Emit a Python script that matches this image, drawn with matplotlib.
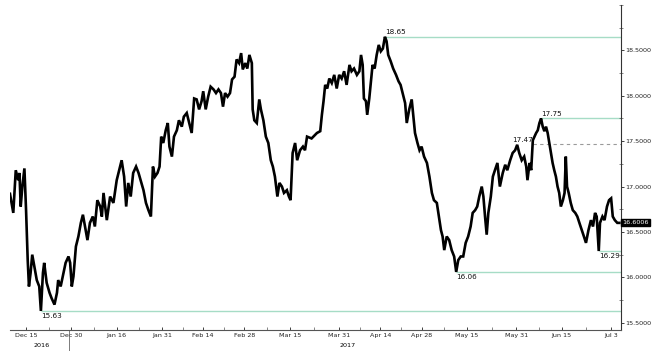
import numpy as np
import matplotlib.pyplot as plt
from matplotlib.ticker import FixedLocator, MultipleLocator, FuncFormatter

# x = weekday sessions counted from 15 Dec 2016
sessions = [-3.9, -3.1, -2.5, -1.9, -1.6, -1.3, -0.9, -0.4, 0.0, 0.4, 0.7, 1.1, 1.5, 2.0, 2.6, 3.2, 3.6,
            4.1, 4.4, 5.0, 5.7, 6.2, 6.9, 7.5, 7.8, 8.4, 9.1, 9.6, 10.3, 10.7, 11.1, 11.5, 12.1, 12.7,
            13.3, 13.8, 14.3, 14.9, 15.5, 16.2, 16.7, 17.3, 18.0, 18.4, 18.8, 19.6, 20.4, 21.2, 22.0,
            22.6, 23.2, 23.8, 24.3, 24.8, 25.4, 26.0, 26.7, 27.3, 27.8, 28.5, 29.1, 29.7, 30.3, 30.8,
            31.3, 31.9, 32.4, 32.8, 33.3, 33.9, 34.4, 34.8, 35.4, 35.9, 36.6, 37.1, 37.8, 38.3, 39.0,
            39.6, 40.2, 40.8, 41.4, 42.0, 42.6, 43.0, 43.6, 44.2, 44.8, 45.5, 46.1, 46.7, 47.3, 47.8,
            48.3, 48.9, 49.5, 50.0, 50.6, 51.1, 51.7, 52.2, 52.6, 53.2, 53.7, 54.2, 54.8, 55.0, 55.4,
            56.0, 56.6, 57.0, 57.6, 58.2, 58.8, 59.4, 59.9, 60.4, 61.0, 61.5, 62.1, 62.6, 63.3, 63.8,
            64.2, 64.7, 65.3, 65.8, 66.5, 67.2, 67.7, 68.2, 69.3, 70.6, 71.4, 71.8, 72.2, 72.6, 73.1,
            73.6, 74.2, 74.8, 75.4, 76.0, 76.6, 77.2, 77.8, 78.5, 79.0, 79.6, 80.3, 80.9, 81.3, 81.7,
            82.0, 82.5, 82.8, 83.3, 83.7, 84.1, 84.6, 85.1, 85.6, 86.1, 86.6, 87.1, 87.5, 87.9, 88.5,
            89.1, 89.8, 90.4, 90.9, 91.6, 92.0, 92.4, 93.0, 93.6, 94.0, 94.4, 95.0, 95.5, 96.0, 96.6,
            97.3, 97.9, 98.5, 99.0, 99.7, 100.2, 100.7, 101.1, 101.5, 102.1, 102.7, 103.3, 103.9, 104.4,
            104.9, 105.5, 106.1, 106.7, 107.3, 107.9, 108.4, 109.0, 109.5, 110.0, 110.6, 111.0, 111.4,
            111.8, 112.2, 112.8, 113.3, 113.8, 114.4, 115.0, 115.7, 116.3, 116.8, 117.5, 118.1, 118.7,
            119.2, 119.7, 120.3, 120.9, 121.4, 121.7, 122.2, 122.6, 123.0, 123.4, 123.8, 124.2, 124.6,
            125.0, 125.4, 125.8, 126.2, 126.6, 127.0, 127.4, 127.8, 128.2, 128.6, 129.0, 129.4, 129.8,
            130.3, 130.7, 131.0, 131.3, 131.7, 132.2, 132.7, 133.3, 133.8, 134.3, 134.9, 135.4, 135.9,
            136.5, 137.1, 137.6, 138.1, 138.5, 139.0, 139.3, 139.9, 140.4, 141.0, 141.5, 142.0, 142.4,
            142.9, 143.5, 144.0]
closes = [16.92, 16.71, 17.18, 17.07, 17.15, 16.78, 17.00, 17.20, 16.74, 16.19, 15.90, 16.05, 16.25, 16.12,
          15.97, 15.90, 15.63, 16.05, 16.16, 15.94, 15.83, 15.77, 15.70, 15.83, 15.97, 15.90, 16.05, 16.16,
          16.23, 16.16, 15.90, 16.01, 16.34, 16.45, 16.60, 16.69, 16.56, 16.41, 16.60, 16.67, 16.56, 16.85,
          16.78, 16.67, 16.93, 16.63, 16.89, 16.82, 17.07, 17.18, 17.29, 17.11, 16.78, 17.04, 16.89, 17.15,
          17.22, 17.15, 17.07, 16.96, 16.82, 16.74, 16.67, 17.22, 17.11, 17.15, 17.22, 17.55, 17.48, 17.62,
          17.70, 17.44, 17.33, 17.55, 17.62, 17.73, 17.66, 17.77, 17.81, 17.70, 17.59, 17.97, 17.96, 17.85,
          17.94, 18.05, 17.85, 17.99, 18.10, 18.07, 18.03, 18.07, 18.03, 17.88, 18.03, 17.99, 18.03, 18.18,
          18.21, 18.40, 18.36, 18.47, 18.29, 18.36, 18.30, 18.45, 18.36, 17.85, 17.73, 17.70, 17.96, 17.85,
          17.73, 17.55, 17.48, 17.29, 17.22, 17.11, 16.89, 17.04, 17.00, 16.93, 16.96, 16.89, 16.85, 17.37,
          17.48, 17.29, 17.40, 17.44, 17.40, 17.55, 17.53, 17.59, 17.61, 17.79, 17.94, 18.12, 18.08, 18.19,
          18.14, 18.23, 18.08, 18.23, 18.19, 18.27, 18.12, 18.34, 18.27, 18.30, 18.23, 18.27, 18.45, 18.34,
          17.97, 17.94, 17.79, 17.97, 18.16, 18.34, 18.30, 18.45, 18.56, 18.49, 18.52, 18.65, 18.60, 18.45,
          18.38, 18.30, 18.23, 18.16, 18.12, 17.99, 17.92, 17.70, 17.85, 17.96, 17.77, 17.59, 17.48, 17.40,
          17.44, 17.33, 17.26, 17.11, 16.93, 16.85, 16.82, 16.67, 16.52, 16.45, 16.30, 16.45, 16.41, 16.30,
          16.23, 16.06, 16.19, 16.23, 16.23, 16.38, 16.45, 16.56, 16.71, 16.74, 16.78, 16.89, 17.00, 16.89,
          16.67, 16.47, 16.71, 16.89, 17.11, 17.18, 17.26, 17.00, 17.15, 17.24, 17.18, 17.29, 17.37, 17.40,
          17.46, 17.37, 17.29, 17.33, 17.22, 17.07, 17.26, 17.18, 17.51, 17.55, 17.59, 17.62, 17.70, 17.75,
          17.66, 17.61, 17.66, 17.59, 17.48, 17.37, 17.26, 17.18, 17.11, 17.00, 16.93, 16.78, 16.85, 16.93,
          17.33, 17.00, 16.93, 16.82, 16.74, 16.71, 16.67, 16.60, 16.52, 16.45, 16.38, 16.52, 16.63, 16.56,
          16.71, 16.67, 16.29, 16.60, 16.67, 16.63, 16.78, 16.85, 16.87, 16.67, 16.63, 16.60, 16.60]

tick_dates = ['2016-12-15', '2016-12-30', '2017-01-16', '2017-01-31', '2017-02-14', '2017-02-28',
              '2017-03-15', '2017-03-31', '2017-04-14', '2017-04-28', '2017-05-15', '2017-05-31',
              '2017-06-15', '2017-07-03']
tick_labels = ['Dec 15', 'Dec 30', 'Jan 16', 'Jan 31', 'Feb 14', 'Feb 28', 'Mar 15', 'Mar 31',
               'Apr 14', 'Apr 28', 'May 15', 'May 31', 'Jun 15', 'Jul 3']
y_ticks = [15.5, 16.0, 16.5, 17.0, 17.5, 18.0, 18.5]

# marked levels: value, session where the line starts, label side
levels = [18.65, 17.75, 16.06, 15.63, 16.29]
level_start = [87.1, 125.0, 104.4, 3.6, 139.0]
level_above = [True, True, False, False, False]
prev_high = 17.47
prev_high_start = 123.0
last_price = 16.6006

green = '#a6dcc6'
fs = 4.6

fig = plt.figure(figsize=(6.53, 3.51), dpi=100)
ax = fig.add_axes([0.0153, 0.0598, 0.9357, 0.926])
x_min, x_max = -3.9, 144.4
ax.set_xlim(x_min, x_max)
ax.set_ylim(15.42, 19.0)

# levels
for lv, st, above in zip(levels, level_start, level_above):
    ax.hlines(lv, st, x_max, color=green, lw=1.0, zorder=1)
    ax.annotate(f'{lv:.2f}', xy=(st, lv), xytext=(0, 1 if above else -1.5), textcoords='offset points',
                ha='left', va='bottom' if above else 'top', fontsize=5.2, color='#111111')
ax.hlines(prev_high, prev_high_start, x_max, color='#9a9a9a', lw=0.8, linestyles=(0, (3, 3)), zorder=1)
ax.annotate(f'{prev_high:.2f}', xy=(prev_high_start, prev_high), xytext=(0, 1), textcoords='offset points',
            ha='right', va='bottom', fontsize=5.2, color='#111111')

ax.plot(sessions, closes, color='black', lw=1.9, solid_joinstyle='miter', zorder=3)

# spines
for s in ['top', 'left']:
    ax.spines[s].set_visible(False)
ax.spines['right'].set_color('#333333')
ax.spines['bottom'].set_color('#555555')
ax.spines['right'].set_linewidth(0.8)
ax.spines['bottom'].set_linewidth(0.8)

# y axis on the right
ax.yaxis.tick_right()
ax.yaxis.set_major_locator(FixedLocator(y_ticks))
ax.yaxis.set_minor_locator(MultipleLocator(0.25))
ax.yaxis.set_major_formatter(FuncFormatter(lambda v, p: f'{v:.4f}'))
ax.tick_params(axis='y', which='major', direction='out', length=2.5, width=0.6, labelsize=fs, pad=0.8,
               colors='#222222')
ax.tick_params(axis='y', which='minor', direction='inout', length=3, width=0.5, colors='#555555')

# x axis in weekday sessions
tick_pos = [int(np.busday_count('2016-12-15', d)) for d in tick_dates]
ax.xaxis.set_major_locator(FixedLocator(tick_pos))
ax.set_xticklabels(tick_labels)
minor = [(a + b) / 2 for a, b in zip(tick_pos[:-1], tick_pos[1:])]
ax.xaxis.set_minor_locator(FixedLocator(minor))
ax.tick_params(axis='x', which='major', direction='in', length=2, width=0.6, labelsize=fs, pad=2,
               colors='#222222')
ax.tick_params(axis='x', which='minor', direction='in', length=2, width=0.5, colors='#555555')

# year labels and separator
ax.annotate('2016', xy=(tick_pos[0], 0), xycoords=('data', 'axes fraction'), xytext=(11, -9),
            textcoords='offset points', ha='center', va='top', fontsize=fs)
ax.annotate('2017', xy=(tick_pos[7], 0), xycoords=('data', 'axes fraction'), xytext=(6, -9),
            textcoords='offset points', ha='center', va='top', fontsize=fs)
sep = int(np.busday_count('2016-12-15', '2016-12-30'))
ax.plot([sep - 0.6, sep - 0.6], [0, -0.075], transform=ax.get_xaxis_transform(), color='#666666',
        lw=0.6, clip_on=False)

# last price tag
ax.annotate(f'{last_price:.4f}', xy=(1.0, last_price), xycoords=('axes fraction', 'data'),
            xytext=(1, 0), textcoords='offset points', ha='left', va='center', fontsize=fs, color='white',
            bbox=dict(boxstyle='square,pad=0.15', fc='black', ec='black'), zorder=5, annotation_clip=False)

fig.savefig('out.png', dpi=100)
